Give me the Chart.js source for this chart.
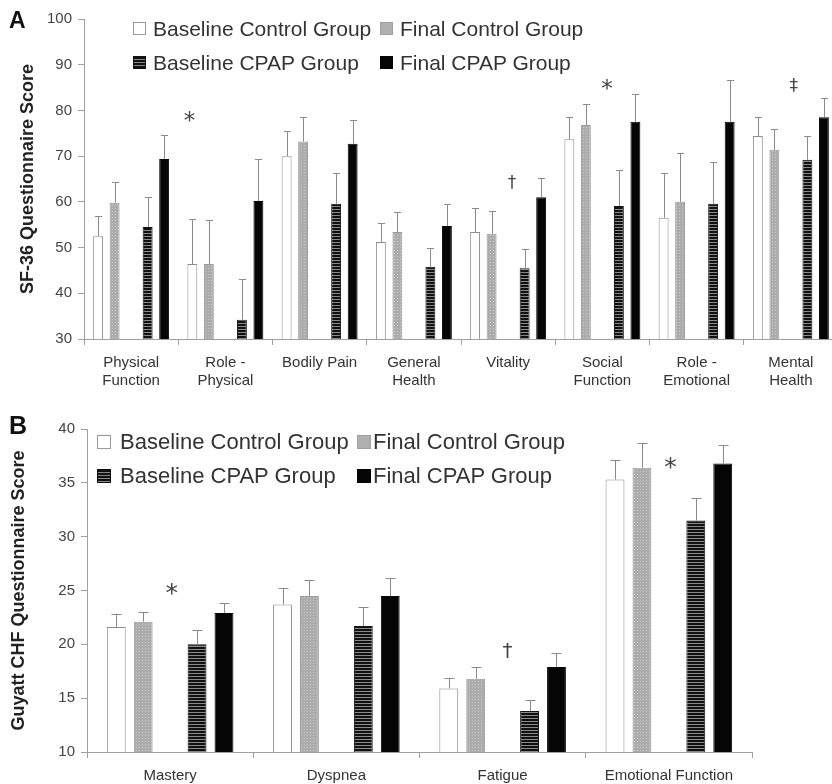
<!DOCTYPE html>
<html>
<head>
<meta charset="utf-8">
<script src="https://cdn.jsdelivr.net/npm/chart.js@4.4.1/dist/chart.umd.min.js"></script>
<style>
  html, body { margin: 0; padding: 0; background: #fff; overflow: hidden; }
  body { width: 832px; height: 784px; position: relative; font-family: "Liberation Sans", Arial, sans-serif; }
  canvas { position: absolute; left: 0; }
  #chartA { top: 0; }
  #chartB { top: 392px; }
  .letter { position: absolute; font-weight: bold; color: #111; line-height: 1; }
  .legtext { position: absolute; color: #333; white-space: nowrap; }
  .key { position: absolute; box-sizing: border-box; }
</style>
</head>
<body>
<canvas id="chartA" width="840" height="392"></canvas>
<canvas id="chartB" width="832" height="392"></canvas>
<div class="letter" style="left:9px; top:9px; font-size:23px;">A</div>
<div class="letter" style="left:9px; top:413px; font-size:25px;">B</div>
<div id="legends"></div>

<script>
// series names (legend)
const seriesNames = ['Baseline Control Group', 'Final Control Group', 'Baseline CPAP Group', 'Final CPAP Group'];

// panel A: SF-36
const sfCategories = [['Physical', 'Function'], ['Role -', 'Physical'], 'Bodily Pain', ['General', 'Health'], 'Vitality', ['Social', 'Function'], ['Role -', 'Emotional'], ['Mental', 'Health']];
const sfTicks = [30, 40, 50, 60, 70, 80, 90, 100];
const sfBaselineControl = [52.5, 46.4, 70.0, 51.2, 53.4, 73.7, 56.5, 74.4];
const sfFinalControl = [59.8, 46.4, 73.2, 53.4, 53.0, 76.8, 60.0, 71.4];
const sfBaselineCpap = [54.5, 34.2, 59.6, 45.8, 45.5, 59.1, 59.6, 69.2];
const sfFinalCpap = [69.4, 60.2, 72.7, 54.7, 61.0, 77.5, 77.5, 78.5];
const sfBaselineControlSd = [4.5, 9.9, 5.5, 4.2, 5.3, 4.8, 9.8, 4.1];
const sfFinalControlSd = [4.6, 9.6, 5.3, 4.4, 5.0, 4.6, 10.7, 4.6];
const sfBaselineCpapSd = [6.5, 8.9, 6.7, 4.1, 4.2, 7.9, 9.1, 5.2];
const sfFinalCpapSd = [5.2, 9.2, 5.1, 4.8, 4.2, 6.1, 9.2, 4.3];
// significance marks: [symbol, category position, value]
const sfMarks = [['*', 0.62, 78.6], ['†', 4.04, 64.4], ['*', 5.05, 85.6], ['‡', 7.03, 85.6]];

// panel B: Guyatt CHF
const chfCategories = ['Mastery', 'Dyspnea', 'Fatigue', 'Emotional Function'];
const chfTicks = [10, 15, 20, 25, 30, 35, 40];
const chfBaselineControl = [21.6, 23.7, 15.9, 35.3];
const chfFinalControl = [22.1, 24.5, 16.8, 36.4];
const chfBaselineCpap = [20.0, 21.7, 13.8, 31.5];
const chfFinalCpap = [22.9, 24.5, 17.9, 36.8];
const chfBaselineControlSd = [1.2, 1.5, 1.0, 1.8];
const chfFinalControlSd = [0.9, 1.5, 1.1, 2.3];
const chfBaselineCpapSd = [1.3, 1.8, 1.0, 2.1];
const chfFinalCpapSd = [0.9, 1.7, 1.3, 1.7];
const chfMarks = [['*', 0.01, 25.1], ['†', 2.03, 19.4], ['*', 3.01, 36.8]];

Chart.defaults.font.family = '"Liberation Sans", Arial, sans-serif';

function makePattern(w, h, draw) {
    const c = document.createElement('canvas');
    c.width = w;
    c.height = h;
    const g = c.getContext('2d');
    draw(g);
    return g.createPattern(c, 'repeat');
}

const stripes = makePattern(1, 3, g => {
    g.fillStyle = '#111';
    g.fillRect(0, 0, 1, 3);
    g.fillStyle = '#8a8a8a';
    g.fillRect(0, 2, 1, 1);
});
const dots = makePattern(3, 3, g => {
    g.fillStyle = '#acacac';
    g.fillRect(0, 0, 3, 3);
    g.fillStyle = '#c8c8c8';
    g.fillRect(1, 1, 1, 1);
});

const styles = [
    { backgroundColor: '#fff', borderColor: '#8c8c8c' },
    { backgroundColor: dots, borderColor: '#9a9a9a' },
    { backgroundColor: stripes, borderColor: '#111' },
    { backgroundColor: '#050505', borderColor: '#050505' },
];

// error bars, upward only, with a cap
const errorBars = {
    id: 'errorBars',
    afterDatasetsDraw(chart, args, opts) {
        const ctx = chart.ctx;
        const y = chart.scales.y;
        ctx.save();
        ctx.strokeStyle = '#8a8a8a';
        ctx.lineWidth = 1;
        chart.data.datasets.forEach((ds, i) => {
            if (!ds.sd) return;
            chart.getDatasetMeta(i).data.forEach((bar, j) => {
                const x = Math.round(bar.x) + 0.5;
                const top = Math.round(y.getPixelForValue(ds.data[j] + ds.sd[j])) + 0.5;
                ctx.beginPath();
                ctx.moveTo(x, bar.y);
                ctx.lineTo(x, top);
                ctx.moveTo(x - opts.cap / 2, top);
                ctx.lineTo(x + opts.cap / 2, top);
                ctx.stroke();
            });
        });
        ctx.restore();
    }
};

// *, †, ‡ above groups
const marks = {
    id: 'marks',
    afterDraw(chart, args, opts) {
        const ctx = chart.ctx;
        const xs = chart.scales.x, ys = chart.scales.y;
        ctx.save();
        ctx.fillStyle = '#444';
        ctx.textAlign = 'center';
        ctx.textBaseline = 'alphabetic';
        opts.items.forEach(([sym, at, val]) => {
            ctx.font = (sym === '*' ? opts.starSize : opts.size) + 'px "DejaVu Sans"';
            const m = ctx.measureText(sym);
            const x = xs.getPixelForValue(at);
            const y = ys.getPixelForValue(val) + (m.actualBoundingBoxAscent - m.actualBoundingBoxDescent) / 2;
            ctx.fillText(sym, x, y);
        });
        ctx.restore();
    }
};

function buildChart(id, cfg) {
    const datasets = [];
    cfg.series.forEach((s, i) => {
        if (i === 2) datasets.push({ label: '', data: cfg.series[0].map(() => null) }); // empty middle slot
        datasets.push({ label: seriesNames[i], data: s, sd: cfg.sd[i], borderWidth: 1, ...styles[i] });
    });
    return new Chart(document.getElementById(id), {
        type: 'bar',
        data: { labels: cfg.labels, datasets: datasets },
        options: {
            responsive: false,
            animation: false,
            layout: { padding: cfg.padding },
            datasets: { bar: { categoryPercentage: cfg.catPct, barPercentage: cfg.barPct } },
            plugins: {
                legend: { display: false },
                tooltip: { enabled: false },
                errorBars: { cap: cfg.cap },
                marks: { items: cfg.marks, size: cfg.markSize, starSize: cfg.starSize },
            },
            scales: {
                x: {
                    grid: { drawOnChartArea: false, offset: true, tickLength: 6, color: '#a0a0a0' },
                    border: { color: '#a0a0a0' },
                    ticks: { color: '#333', font: { size: 15, lineHeight: 1.25 }, padding: 8, maxRotation: 0, autoSkip: false },
                    afterFit(s) { s.height = cfg.xHeight; },
                },
                y: {
                    min: cfg.ticks[0],
                    max: cfg.ticks[cfg.ticks.length - 1],
                    afterBuildTicks(s) { s.ticks = cfg.ticks.map(v => ({ value: v })); },
                    grid: { drawOnChartArea: false, tickLength: 6, color: '#a0a0a0' },
                    border: { color: '#a0a0a0' },
                    ticks: { color: '#444', font: { size: 15 }, padding: 6 },
                    title: { display: true, text: cfg.title, color: '#222', font: { size: 18, weight: 'bold' }, padding: { top: cfg.titlePad, bottom: 0 } },
                    afterFit(s) { s.width = cfg.yWidth; },
                },
            },
        },
        plugins: [errorBars, marks],
    });
}

buildChart('chartA', {
    labels: sfCategories,
    series: [sfBaselineControl, sfFinalControl, sfBaselineCpap, sfFinalCpap],
    sd: [sfBaselineControlSd, sfFinalControlSd, sfBaselineCpapSd, sfFinalCpapSd],
    ticks: sfTicks,
    marks: sfMarks,
    title: 'SF-36 Questionnaire Score',
    padding: { left: 0, right: 2, top: 19, bottom: 0 },
    xHeight: 53, yWidth: 84, titlePad: 17,
    catPct: 0.876, barPct: 0.6, cap: 7,
    markSize: 17, starSize: 23,
});

buildChart('chartB', {
    labels: chfCategories,
    series: [chfBaselineControl, chfFinalControl, chfBaselineCpap, chfFinalCpap],
    sd: [chfBaselineControlSd, chfFinalControlSd, chfBaselineCpapSd, chfFinalCpapSd],
    ticks: chfTicks,
    marks: chfMarks,
    title: 'Guyatt CHF Questionnaire Score',
    padding: { left: 0, right: 80, top: 37, bottom: 0 },
    xHeight: 32, yWidth: 87, titlePad: 8,
    catPct: 0.81, barPct: 0.7, cap: 10,
    markSize: 20, starSize: 25,
});

// html legends, two rows of two
const keyCss = [
    'background:#fff;border:1px solid #999;',
    'background:#b0b0b0;border:1px solid #a0a0a0;',
    'background:repeating-linear-gradient(#111 0 2px,#888 2px 3px);border:1px solid #111;',
    'background:#050505;',
];
function addLegend(l) {
    const box = document.getElementById('legends');
    seriesNames.forEach((name, i) => {
        const col = i % 2, row = Math.floor(i / 2);
        const k = document.createElement('div');
        k.className = 'key';
        k.style.cssText = keyCss[i] + `left:${l.keyX[col]}px;top:${l.rowY[row] - l.key / 2}px;width:${l.key}px;height:${l.key}px;`;
        box.appendChild(k);
        const t = document.createElement('div');
        t.className = 'legtext';
        t.textContent = name;
        t.style.cssText = `left:${l.textX[col]}px;top:${l.rowY[row] - 0.49 * l.size}px;font-size:${l.size}px;line-height:${l.size}px;`;
        box.appendChild(t);
    });
}
addLegend({ keyX: [133, 380], textX: [153, 400], rowY: [28, 62], key: 13, size: 21 });
addLegend({ keyX: [97, 357], textX: [120, 373], rowY: [442, 476], key: 14, size: 22 });
</script>
</body>
</html>
